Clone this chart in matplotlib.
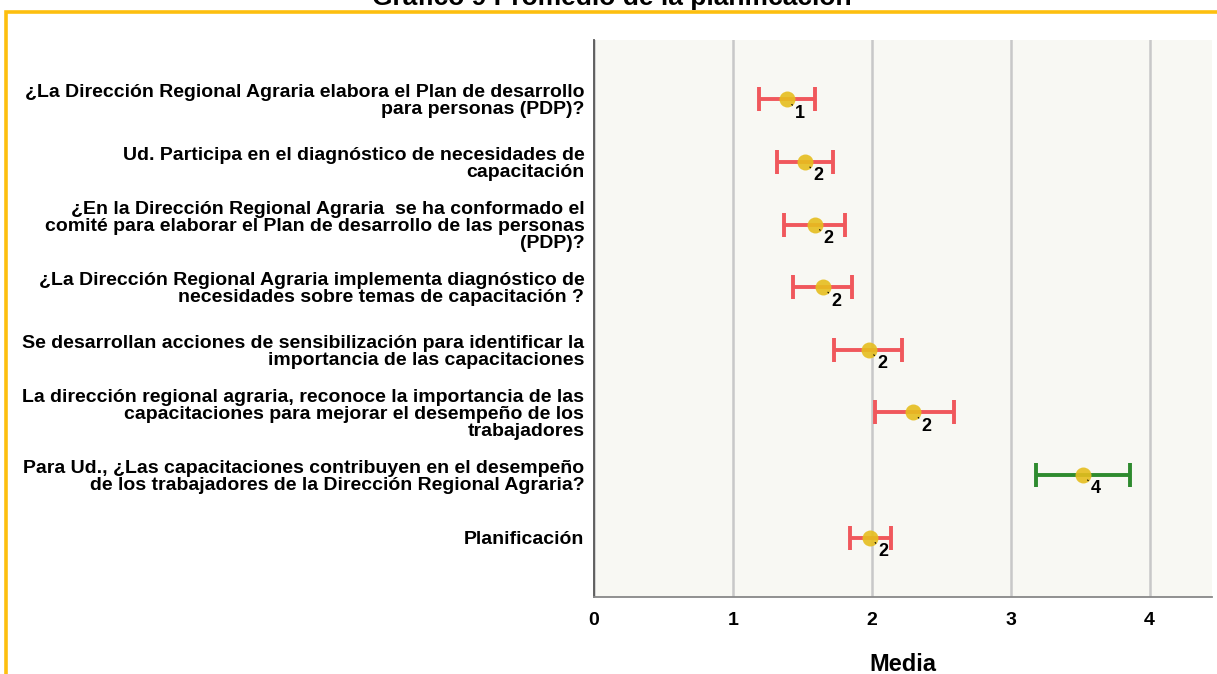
import matplotlib
matplotlib.use("Agg")
import matplotlib.pyplot as plt
from matplotlib.patches import Rectangle

plt.rcParams['font.family'] = ['Liberation Sans Narrow', 'Liberation Sans', 'DejaVu Sans']
plt.rcParams['font.weight'] = 'bold'

preguntas = [
    "¿La Dirección Regional Agraria elabora el Plan de desarrollo\npara personas (PDP)?",
    "Ud. Participa en el diagnóstico de necesidades de\ncapacitación",
    "¿En la Dirección Regional Agraria  se ha conformado el\ncomité para elaborar el Plan de desarrollo de las personas\n(PDP)?",
    "¿La Dirección Regional Agraria implementa diagnóstico de\nnecesidades sobre temas de capacitación ?",
    "Se desarrollan acciones de sensibilización para identificar la\nimportancia de las capacitaciones",
    "La dirección regional agraria, reconoce la importancia de las\ncapacitaciones para mejorar el desempeño de los\ntrabajadores",
    "Para Ud., ¿Las capacitaciones contribuyen en el desempeño\nde los trabajadores de la Dirección Regional Agraria?",
    "Planificación",
]
media = [1.39, 1.52, 1.59, 1.65, 1.98, 2.30, 3.52, 1.99]
ic_inf = [1.19, 1.32, 1.37, 1.43, 1.73, 2.02, 3.18, 1.84]
ic_sup = [1.59, 1.72, 1.81, 1.86, 2.22, 2.59, 3.86, 2.14]
colores = ['#F0585C'] * 6 + ['#2E8B2E'] + ['#F0585C']

fig = plt.figure(figsize=(12.17, 6.74), dpi=100)
ax = fig.add_axes([594 / 1217, 1 - 597 / 674, (1212 - 594) / 1217, (597 - 40) / 674])
ax.set_facecolor('#F8F8F3')

for i in range(len(media)):
    ax.errorbar(media[i], i,
                xerr=[[media[i] - ic_inf[i]], [ic_sup[i] - media[i]]],
                fmt='none', ecolor=colores[i], elinewidth=2.8,
                capsize=8.5, capthick=2.8, zorder=3)
    ax.plot(media[i], i, 'o', color='#E6BE1E', markersize=11.5,
            markeredgewidth=0, alpha=0.9, zorder=4)
    ax.annotate(str(round(media[i])), xy=(media[i], i), xytext=(9.5, -10),
                textcoords='offset points', ha='center', va='center',
                fontsize=13, fontweight='bold',
                arrowprops=dict(arrowstyle='-', linestyle=(0, (1.5, 1)),
                                color='black', lw=0.8, shrinkA=0, shrinkB=5),
                zorder=5)

ax.set_yticks(range(len(preguntas)))
ax.set_yticklabels(preguntas, fontsize=14, fontweight='bold',
                   multialignment='right', linespacing=1.0)
ax.set_ylim(7.95, -0.95)
ax.set_xlim(0, 4.45)
ax.set_xticks([0, 1, 2, 3, 4])
ax.set_xticklabels(['0', '1', '2', '3', '4'], fontsize=14, fontweight='bold')
ax.tick_params(axis='y', length=0, pad=7)
ax.tick_params(axis='x', length=0, pad=11)
ax.grid(axis='x', color='#C8C8C8', linewidth=1.8)
ax.set_axisbelow(True)
for s in ['top', 'right']:
    ax.spines[s].set_visible(False)
ax.spines['left'].set_color('#555555')
ax.spines['left'].set_linewidth(1.3)
ax.spines['bottom'].set_color('#888888')
ax.spines['bottom'].set_linewidth(1.3)
ax.set_xlabel('Media', fontsize=17, fontweight='bold', labelpad=17)

# marco del grafico
fig.patches.append(Rectangle((5.5 / 1217, -0.1), 1.2, 1 - 12.5 / 674 + 0.1,
                             transform=fig.transFigure, fill=False,
                             edgecolor='#FDBF0F', linewidth=2.6))
fig.text(612 / 1217, 1 - 5 / 674, 'Gráfico 9 Promedio de la planificación',
         ha='center', va='baseline', fontsize=19, fontweight='bold')

fig.savefig('out.png', dpi=100)
